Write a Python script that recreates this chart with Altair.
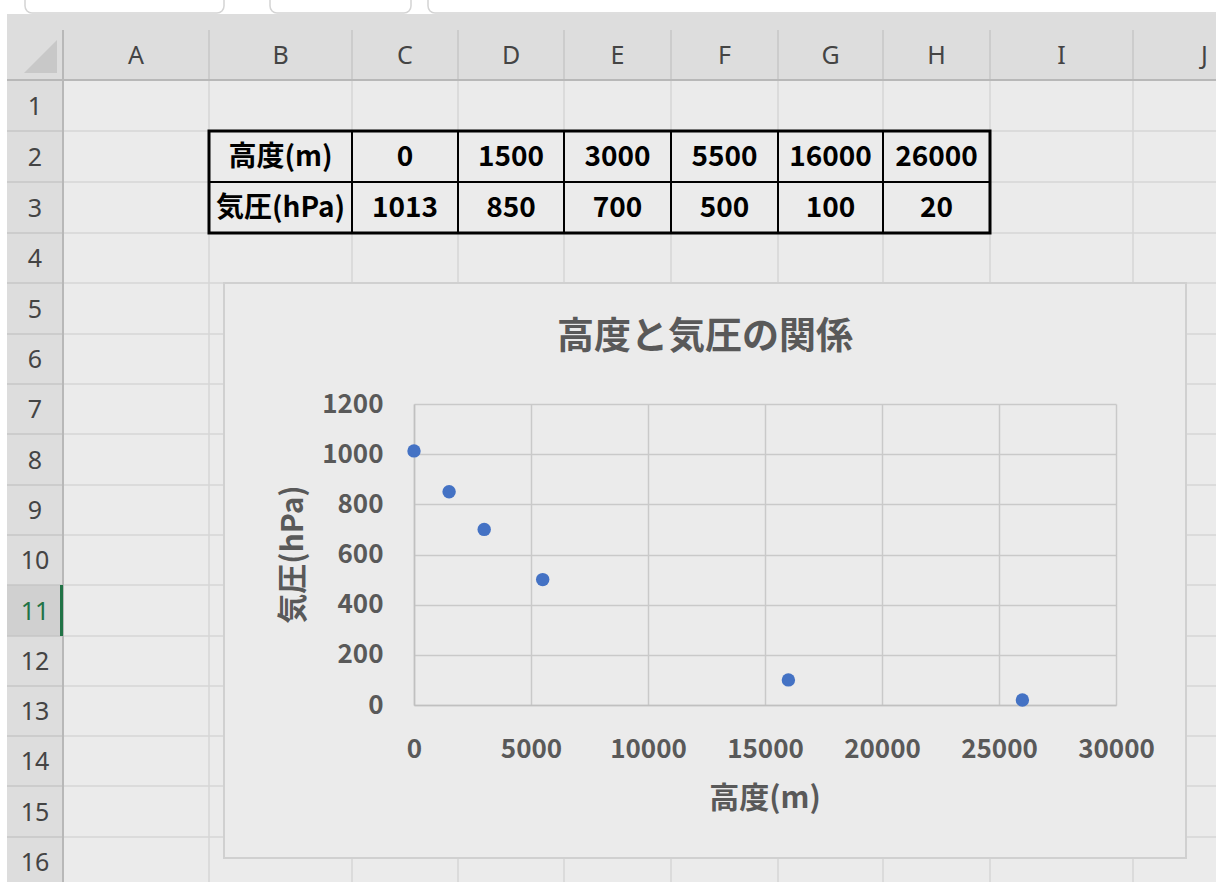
import altair as alt
import pandas as pd

# ---------------- data ----------------
altitude_m = [0, 1500, 3000, 5500, 16000, 26000]
pressure_hpa = [1013, 850, 700, 500, 100, 20]
table_row_labels = ["高度(m)", "気圧(hPa)"]
chart_title = "高度と気圧の関係"
x_title = "高度(m)"
y_title = "気圧(hPa)"
col_letters = ["A", "B", "C", "D", "E", "F", "G", "H", "I", "J"]
row_numbers = [str(i) for i in range(1, 17)]
x_ticks = [0, 5000, 10000, 15000, 20000, 25000, 30000]
y_ticks = [0, 200, 400, 600, 800, 1000, 1200]

# ---------------- layout (page pixels) ----------------
W, H = 1216, 882
PL, PT, PR, PB = 414, 404, 1116, 705          # plot area
HDR_TOP, HDR_BOT = 14, 80                      # column header band
RH_LEFT, RH_RIGHT = 7, 63                      # row header band
col_edges = [63, 209, 352, 458, 564, 671, 778, 883, 990, 1133, 1276]
row_edges = [80, 131, 182, 233, 283, 334, 384, 434, 485, 535, 585, 636, 686, 736, 786, 837, 887]
CA_L, CA_T, CA_R, CA_B = 224, 283, 1186, 858   # chart area
ACTIVE_ROW = 10                                # index of row "11"

FONT = "Noto Sans CJK JP"
GREY_TXT = "#595959"


def shift(rows, xs=("x1", "x2"), ys=("y1", "y2")):
    df = pd.DataFrame(rows)
    for c in xs:
        if c in df:
            df[c] = df[c] - PL
    for c in ys:
        if c in df:
            df[c] = df[c] - PT
    return df


def rule_layer(segs, color, width):
    df = shift([dict(x1=a, y1=b, x2=c, y2=d) for a, b, c, d in segs])
    return alt.Chart(df).mark_rule(color=color, strokeWidth=width).encode(
        x=alt.X("x1:Q", scale=None, axis=None), x2="x2:Q",
        y=alt.Y("y1:Q", scale=None, axis=None), y2="y2:Q")


def rect_layer(rects, **mark):
    df = shift([dict(x1=a, y1=b, x2=c, y2=d) for a, b, c, d in rects])
    return alt.Chart(df).mark_rect(**mark).encode(
        x=alt.X("x1:Q", scale=None, axis=None), x2="x2:Q",
        y=alt.Y("y1:Q", scale=None, axis=None), y2="y2:Q")


def text_layer(items, **mark):
    df = shift([dict(x1=x, y1=y, t=t, c=c) for x, y, t, c in items])
    return alt.Chart(df).mark_text(**mark).encode(
        x=alt.X("x1:Q", scale=None, axis=None),
        y=alt.Y("y1:Q", scale=None, axis=None),
        text="t:N",
        color=alt.Color("c:N", scale=None))


layers = []

# white strips and header bands
layers.append(rect_layer([(0, 0, W, HDR_TOP), (0, 0, RH_LEFT, H)], fill="#ffffff"))
layers.append(rect_layer([(25, -10, 224, 13), (270, -10, 411, 13), (428, -10, 1240, 13)],
                         fill="#ffffff", stroke="#d4d4d4", strokeWidth=1.5, cornerRadius=7))
layers.append(rect_layer([(RH_LEFT, HDR_TOP, W, HDR_BOT), (RH_LEFT, HDR_BOT, RH_RIGHT, H)],
                         fill="#dddddd"))
layers.append(rect_layer([(RH_LEFT, row_edges[ACTIVE_ROW], RH_RIGHT, row_edges[ACTIVE_ROW + 1])],
                         fill="#d0d0d0"))

# cell grid (kept outside chart area)
cell_segs = []
for x in col_edges[1:]:
    if CA_L < x < CA_R:
        cell_segs.append((x, HDR_BOT, x, CA_T))
        cell_segs.append((x, CA_B, x, H))
    else:
        cell_segs.append((x, HDR_BOT, x, H))
for y in row_edges[1:]:
    if CA_T < y < CA_B:
        cell_segs.append((RH_RIGHT, y, CA_L, y))
        cell_segs.append((CA_R, y, W, y))
    else:
        cell_segs.append((RH_RIGHT, y, W, y))
layers.append(rule_layer(cell_segs, "#d6d6d6", 1.5))

# header separators
hdr_segs = [(x, 30, x, HDR_BOT) for x in col_edges[1:]]
hdr_segs += [(RH_LEFT, y, RH_RIGHT, y) for y in row_edges[1:]]
layers.append(rule_layer(hdr_segs, "#c6c6c6", 1.5))
layers.append(rule_layer([(RH_LEFT, HDR_BOT, W, HDR_BOT), (RH_RIGHT, 30, RH_RIGHT, H)], "#b8b8b8", 2))
layers.append(rule_layer([(RH_RIGHT - 1.5, row_edges[ACTIVE_ROW], RH_RIGHT - 1.5, row_edges[ACTIVE_ROW + 1])],
                         "#217346", 3))

# select-all triangle
tri = shift([dict(x1=40.5, y1=56.5)])
layers.append(alt.Chart(tri).mark_point(shape="M1,-1L1,1L-1,1Z", filled=True, size=1089,
                                        color="#c8c8c8", opacity=1).encode(
    x=alt.X("x1:Q", scale=None, axis=None), y=alt.Y("y1:Q", scale=None, axis=None)))

# column letters and row numbers
col_items = [((col_edges[i] + col_edges[i + 1]) / 2, 56, col_letters[i], "#444444")
             for i in range(len(col_letters))]
row_items = [((RH_LEFT + RH_RIGHT) / 2, (row_edges[i] + row_edges[i + 1]) / 2 + 1, row_numbers[i],
              "#217346" if i == ACTIVE_ROW else "#444444") for i in range(len(row_numbers))]
layers.append(text_layer(col_items + row_items, font="Noto Sans", fontSize=25,
                         align="center", baseline="middle"))

# data table
t_top, t_mid, t_bot = row_edges[1], row_edges[2], row_edges[3]
t_left, t_right = col_edges[1], col_edges[8]
layers.append(rule_layer([(col_edges[i], t_top, col_edges[i], t_bot) for i in range(2, 8)]
                         + [(t_left, t_mid, t_right, t_mid)], "#000000", 2))
layers.append(rect_layer([(t_left, t_top, t_right, t_bot)], fill="transparent",
                         stroke="#000000", strokeWidth=3))
table_items = []
for r, (lab, vals) in enumerate(zip(table_row_labels, [altitude_m, pressure_hpa])):
    cy = (row_edges[1 + r] + row_edges[2 + r]) / 2 + 1
    cells = [lab] + [str(v) for v in vals]
    for i, txt in enumerate(cells):
        cx = (col_edges[1 + i] + col_edges[2 + i]) / 2
        table_items.append((cx, cy, txt, "#000000"))
layers.append(text_layer(table_items, font=FONT, fontSize=28, fontWeight="bold",
                         align="center", baseline="middle"))

# chart area border
layers.append(rect_layer([(CA_L, CA_T, CA_R, CA_B)], fill="transparent",
                         stroke="#d0d0d0", strokeWidth=2))

# chart title and axis titles
layers.append(text_layer([((CA_L + CA_R) / 2, 338, chart_title, GREY_TXT)], font=FONT,
                         fontSize=37, fontWeight="bold", align="center", baseline="middle"))
layers.append(text_layer([((PL + PR) / 2, 799, x_title, GREY_TXT)], font=FONT,
                         fontSize=30, fontWeight="bold", align="center", baseline="middle"))
layers.append(text_layer([(294, (PT + PB) / 2, y_title, GREY_TXT)], font=FONT,
                         fontSize=30, fontWeight="bold", align="center", baseline="middle",
                         angle=270))

# scatter
pts = pd.DataFrame({"altitude": altitude_m, "pressure": pressure_hpa})
axis_common = dict(grid=True, gridColor="#c9c9c9", gridWidth=1.5, domainColor="#c0c0c0",
                   domainWidth=1.5, ticks=False, tickSize=0, labelFont=FONT, labelFontSize=26,
                   labelFontWeight="bold", labelColor=GREY_TXT, title=None, labelPadding=31,
                   format="d", labelFlush=False, labelOverlap=False)
scatter = alt.Chart(pts).mark_circle(size=180, color="#4472C4", opacity=1).encode(
    x=alt.X("altitude:Q", scale=alt.Scale(domain=[0, 30000], nice=False),
            axis=alt.Axis(values=x_ticks, **axis_common)),
    y=alt.Y("pressure:Q", scale=alt.Scale(domain=[0, 1200], nice=False),
            axis=alt.Axis(values=y_ticks, **axis_common)),
)
layers.append(scatter)

chart = alt.layer(*layers).properties(
    width=PR - PL, height=PB - PT,
    padding={"left": PL, "top": PT, "right": W - PR, "bottom": H - PB},
    autosize=alt.AutoSizeParams(type="none"),
    background="#ebebeb",
).configure_view(strokeWidth=0)

chart.save("out.html", embed_options={"renderer": "svg", "actions": False})
